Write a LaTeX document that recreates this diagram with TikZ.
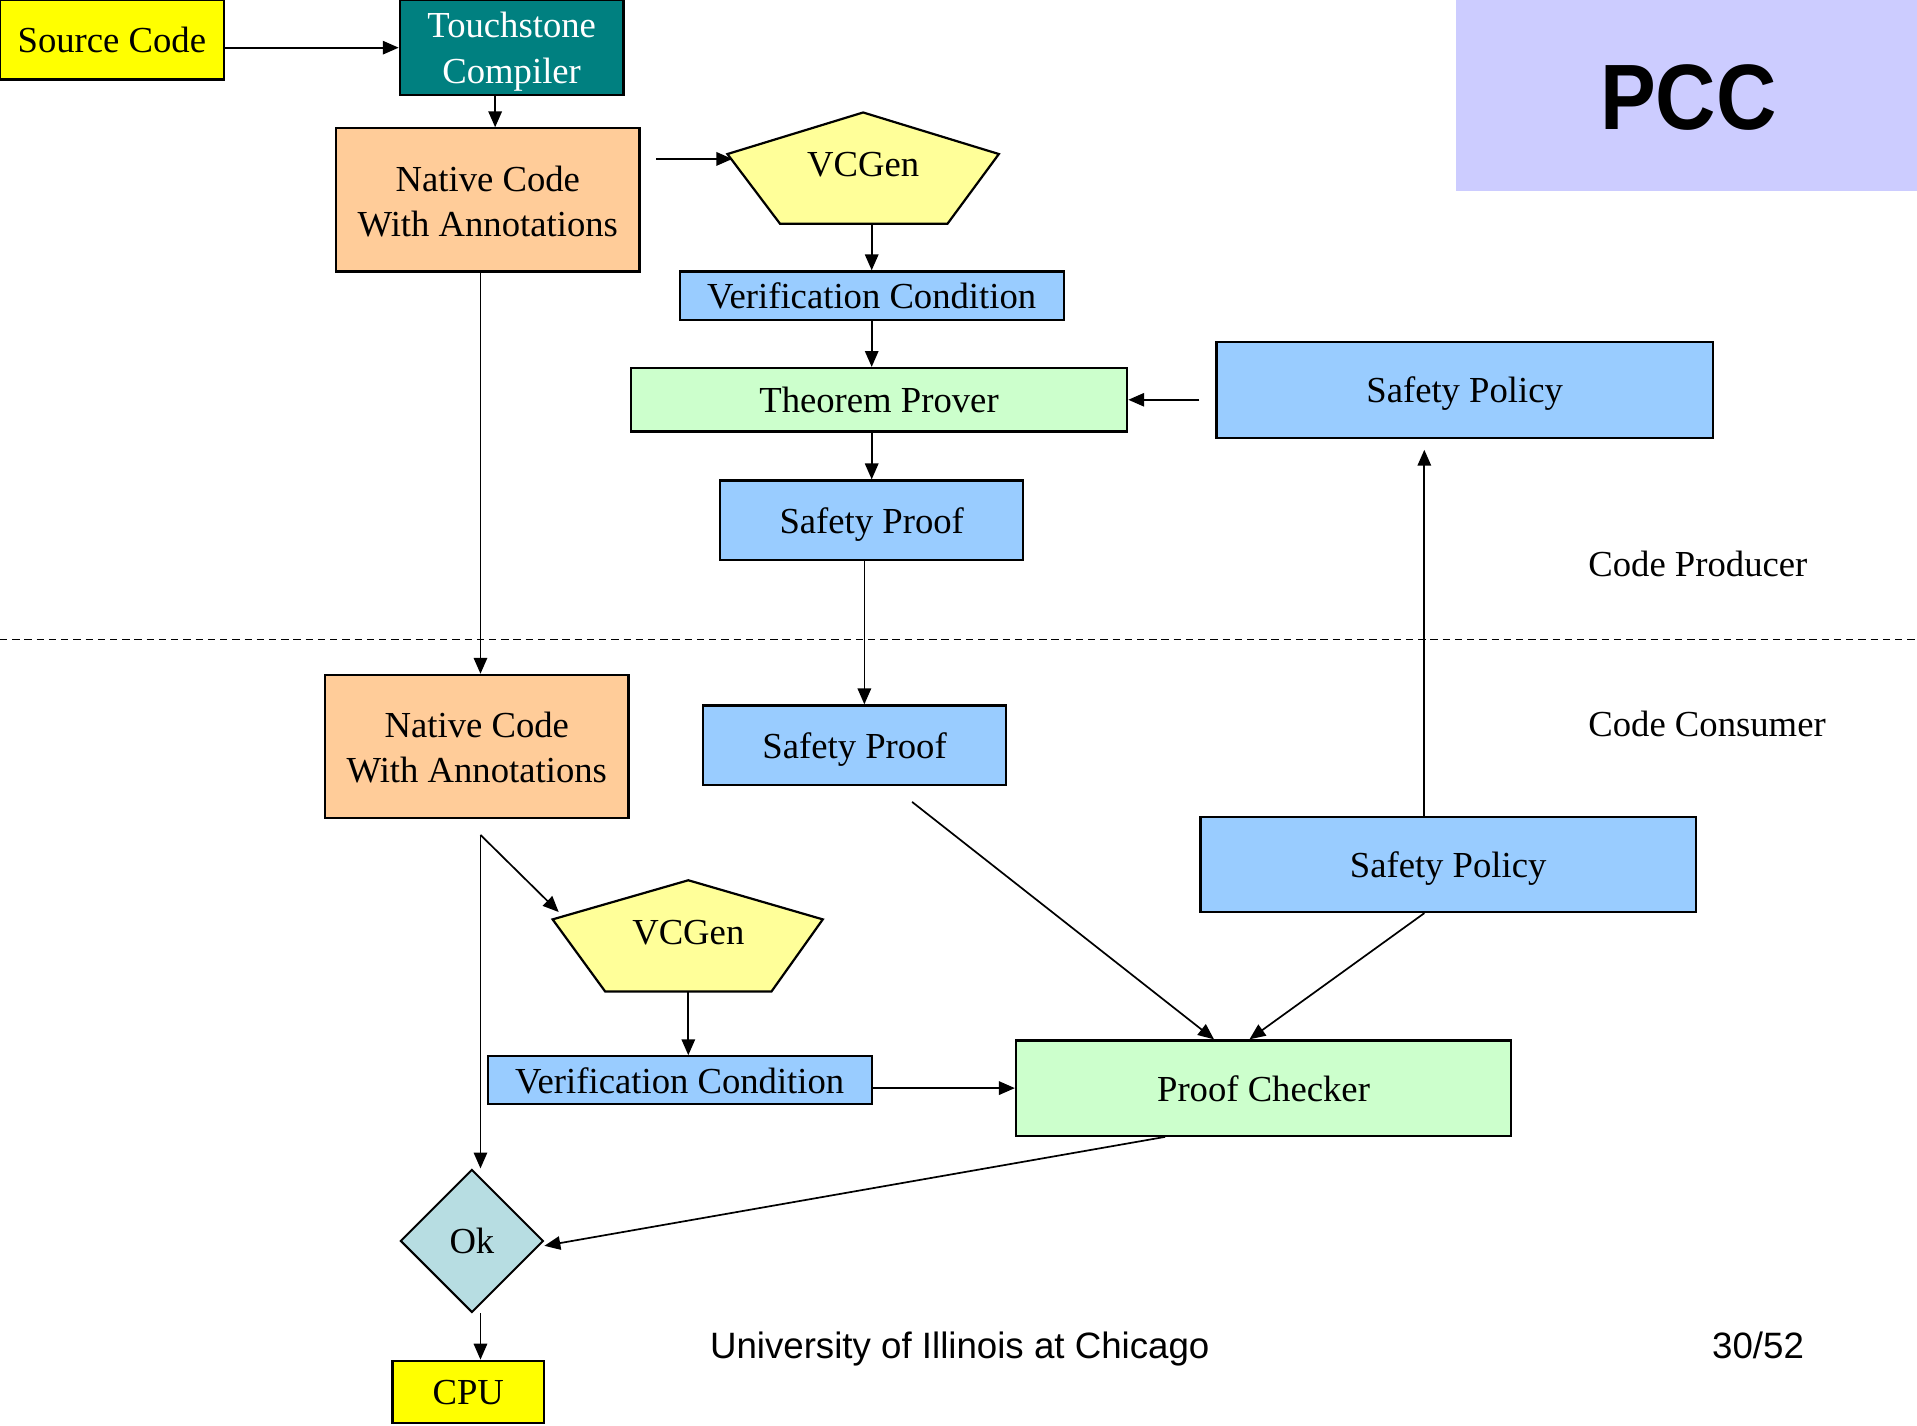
\documentclass[tikz,border=0pt]{standalone}
\usepackage{graphicx}
\usepackage{fontspec}
\setmainfont{Liberation Serif}
\setsansfont{Liberation Sans}
\usetikzlibrary{arrows.meta,calc,shapes.geometric}
\definecolor{srcyellow}{HTML}{FFFF00}
\definecolor{compteal}{HTML}{008080}
\definecolor{peach}{HTML}{FFCC99}
\definecolor{paleyellow}{HTML}{FFFF99}
\definecolor{skyblue}{HTML}{99CCFF}
\definecolor{mint}{HTML}{CCFFCC}
\definecolor{lavender}{HTML}{CCCCFF}
\definecolor{okcyan}{HTML}{B7DDE2}
\tikzset{
  box/.style={draw=black, line width=1.8pt, rectangle, inner sep=0pt, align=center,
              text depth=0pt, font=\fontsize{30}{37}\selectfont},
  pent/.style={draw=black, line width=1.8pt, fill=paleyellow, line join=miter},
  lbl/.style={inner sep=0pt, font=\fontsize{30}{37}\selectfont},
  arr/.style={line width=1.4pt, -{Triangle[length=13pt,width=11pt]}},
}
\begin{document}
\begin{tikzpicture}[x=1pt,y=-1pt]
\useasboundingbox (0,0) rectangle (1568,1166);

% title block
\node[fill=lavender, minimum width=377pt, minimum height=156pt, inner sep=0pt] (pcc) at (1379.5,78) {};
\node[inner sep=0pt, font=\sffamily\bfseries\fontsize{76}{80}\selectfont] (pcctxt) at (1381,80) {\scalebox{0.9}[1]{PCC}};

% ---------- producer side ----------
\node[box, fill=srcyellow, minimum width=183pt, minimum height=65pt] (src) at (91.5,32.5) {Source Code};
\node[box, fill=compteal, text=white, minimum width=183pt, minimum height=78pt] (tc) at (418.5,39) {Touchstone\\Compiler};
\node[box, fill=peach, minimum width=248pt, minimum height=117pt] (nat1) at (399,163.5) {\rule{0pt}{0pt}\raisebox{-2pt}{Native Code}\\\raisebox{-2pt}{With Annotations}};

% VCGen (producer)
\coordinate (vcg1t) at (706,92);
\coordinate (vcg1e) at (817,126);
\coordinate (vcg1se) at (775,183);
\coordinate (vcg1sw) at (638,183);
\coordinate (vcg1w) at (595,126);
\draw[pent] (vcg1t) -- (vcg1e) -- (vcg1se) -- (vcg1sw) -- (vcg1w) -- cycle;
\node[lbl] (vcg1) at (706,135) {VCGen};

\node[box, fill=skyblue, minimum width=314pt, minimum height=40pt] (vc1) at (713,242) {Verification Condition};
\node[box, fill=mint, minimum width=406pt, minimum height=52pt] (tp) at (719,327) {Theorem Prover};
\node[box, fill=skyblue, minimum width=406pt, minimum height=78pt] (sp1) at (1198,319) {Safety Policy};
\node[box, fill=skyblue, minimum width=248pt, minimum height=65pt] (spf1) at (713,425.5) {Safety Proof};

\node[lbl, anchor=west] (prod) at (1299,461) {Code Producer};

% boundary between producer and consumer
\draw[line width=1.2pt, dash pattern=on 6pt off 4pt] (0,523) -- (1568,523);

\node[lbl, anchor=west] (cons) at (1299,592) {Code Consumer};

% ---------- consumer side ----------
\node[box, fill=peach, minimum width=248pt, minimum height=117pt] (nat2) at (390,610.5) {\raisebox{-2pt}{Native Code}\\\raisebox{-2pt}{With Annotations}};
\node[box, fill=skyblue, minimum width=248pt, minimum height=65pt] (spf2) at (699,609.5) {Safety Proof};
\node[box, fill=skyblue, minimum width=405pt, minimum height=78pt] (sp2) at (1184.5,707) {Safety Policy};

% VCGen (consumer)
\coordinate (vcg2t) at (563,720);
\coordinate (vcg2e) at (673,752);
\coordinate (vcg2se) at (631,811);
\coordinate (vcg2sw) at (495,811);
\coordinate (vcg2w) at (452,752);
\draw[pent] (vcg2t) -- (vcg2e) -- (vcg2se) -- (vcg2sw) -- (vcg2w) -- cycle;
\node[lbl] (vcg2) at (563,763) {VCGen};

\node[box, fill=skyblue, minimum width=314pt, minimum height=39pt] (vc2) at (556,883.5) {Verification Condition};
\node[box, fill=mint, minimum width=405pt, minimum height=78pt] (pc) at (1033.5,890) {Proof Checker};
\node[draw=black, line width=1.6pt, fill=okcyan, diamond, aspect=1, minimum width=117pt,
      minimum height=117pt, inner sep=0pt, text depth=0pt, font=\fontsize{30}{37}\selectfont] (ok) at (386,1015) {Ok};
\node[box, fill=srcyellow, minimum width=124pt, minimum height=51pt] (cpu) at (383,1138.5) {CPU};

% footer
\node[inner sep=0pt, text depth=0pt, font=\sffamily\fontsize{30}{36}\selectfont] (uic) at (785,1100) {University of Illinois at Chicago};
\node[inner sep=0pt, text depth=0pt, font=\sffamily\fontsize{30}{36}\selectfont] (pg) at (1438,1100) {30/52};

% ---------- connectors: producer ----------
\draw[arr] (src.east |- tc.west) -- (tc.west);
\coordinate (tcout) at ($(tc.south)+(-13.5,0)$);
\draw[arr] (tcout) -- (tcout |- nat1.north);
\coordinate (n1out) at ($(nat1.east)+(13,-33.5)$);
\draw[arr] (n1out) -- ($(n1out -| vcg1w)+(4,0)$);
\draw[arr] (vcg1sw -| vc1.north) -- (vc1.north);
\draw[arr] (vc1.south) -- (vc1.south |- tp.north);
\draw[arr] (tp.south -| spf1.north) -- (spf1.north);
\coordinate (sp1out) at ($(sp1.west |- tp.east)+(-13,0)$);
\draw[arr] (sp1out) -- (tp.east);

% ---------- connectors: across the boundary ----------
\coordinate (spf1out) at ($(spf1.south)+(-6,0)$);
\draw[arr] (spf1out) -- (spf1out |- spf2.north);
\coordinate (nat1out) at ($(nat1.south)+(-6,0)$);
\draw[arr] (nat1out) -- (nat1out |- nat2.north);
\coordinate (sp2up) at ($(sp2.north)+(-19.5,0)$);
\coordinate (sp1foot) at (sp2up |- sp1.south);
\draw[arr] (sp2up) -- ($(sp1foot)+(0,9)$);

% ---------- connectors: consumer ----------
\coordinate (fork) at ($(nat2.south)+(3,13)$);
\draw[arr] (fork) -- ($(vcg2w)+(5,-6)$);
\draw[arr] (fork) -- (fork |- ok.north);
\draw[arr] (vcg2sw -| vcg2t) -- (vcg2t |- vc2.north);
\draw[arr] (pc.west -| vc2.east) -- (pc.west);
\draw[arr] ($(spf2.south)+(47,13)$) -- ($(pc.north)+(-40.5,0)$);
\draw[arr] ($(sp2.south)+(-19.5,0)$) -- ($(pc.north)+(-11.5,0)$);
\draw[arr] ($(pc.south)+(-80.5,0)$) -- ($(ok.east)+(0,4)$);
\coordinate (okout) at ($(ok.south)+(7,0)$);
\draw[arr] (okout) -- (okout |- cpu.north);
\end{tikzpicture}
\end{document}
